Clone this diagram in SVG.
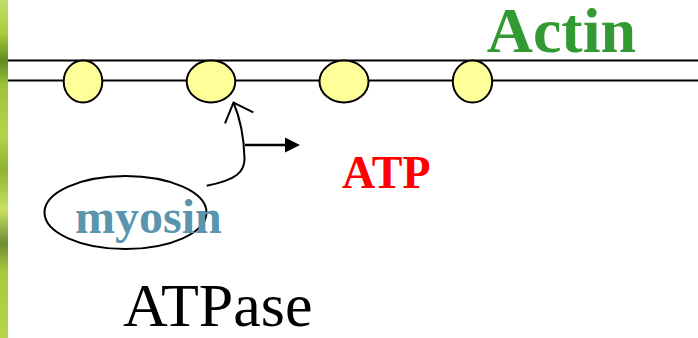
<svg xmlns="http://www.w3.org/2000/svg" width="698" height="338" viewBox="0 0 698 338">
<style>
.bead{fill:#ffff99;stroke:#000;stroke-width:2}
.fil{stroke:#000;stroke-width:2;fill:none}
.arr{stroke:#000;stroke-width:2.4;fill:none}
.lbl{font-family:"Liberation Serif","Times New Roman",serif;font-weight:bold}
</style>
<defs>
<linearGradient id="strip" x1="0" y1="0" x2="0" y2="1">
<stop offset="0" stop-color="#c4dc6a"/>
<stop offset="0.1" stop-color="#a8cc3a"/>
<stop offset="0.18" stop-color="#5f8a22"/>
<stop offset="0.25" stop-color="#9cc23a"/>
<stop offset="0.4" stop-color="#b4d448"/>
<stop offset="0.5" stop-color="#8eb432"/>
<stop offset="0.62" stop-color="#c8e060"/>
<stop offset="0.72" stop-color="#6e8e34"/>
<stop offset="0.8" stop-color="#a6c83c"/>
<stop offset="1" stop-color="#b8d44a"/>
</linearGradient>
</defs>
<rect x="0" y="0" width="698" height="338" fill="#fff"/>
<rect x="0" y="0" width="8" height="338" fill="url(#strip)"/>
<g id="actin">
<line class="fil" x1="8" y1="60.5" x2="698" y2="60.5"/>
<line class="fil" x1="8" y1="80.5" x2="698" y2="80.5"/>
<ellipse id="bead1" class="bead" cx="83" cy="81.5" rx="19.3" ry="21"/>
<ellipse id="bead2" class="bead" cx="211" cy="81.5" rx="24.3" ry="21"/>
<ellipse id="bead3" class="bead" cx="344" cy="81.5" rx="24.5" ry="21"/>
<ellipse id="bead4" class="bead" cx="472.5" cy="81.5" rx="19.7" ry="21"/>
<text class="lbl" x="636" y="52" font-size="64" fill="#339933" text-anchor="end">Actin</text>
</g>
<g id="myosin">
<ellipse cx="125.5" cy="212.5" rx="81" ry="36.5" fill="none" stroke="#000" stroke-width="2"/>
<text class="lbl" x="75" y="233" font-size="48" fill="#5a95ad">myosin</text>
</g>
<g id="atp">
<text class="lbl" x="342" y="188" font-size="46" fill="#ff0000">ATP</text>
</g>
<g id="atpase">
<text x="123" y="326" font-size="62" fill="#000" font-family="Liberation Serif,Times New Roman,serif">ATPase</text>
</g>
<g id="connectors">
<path class="fil" d="M206.7,185.7 C236,180 245,172 244.5,158 C244,140 240,118 233.5,102.5"/>
<polyline class="fil" points="225,123.3 233.5,102.5 253.3,112.3"/>
<line class="arr" x1="245" y1="145" x2="287" y2="145"/>
<polygon points="285,137.5 300,145 285,152.5" fill="#000"/>
</g>
</svg>
